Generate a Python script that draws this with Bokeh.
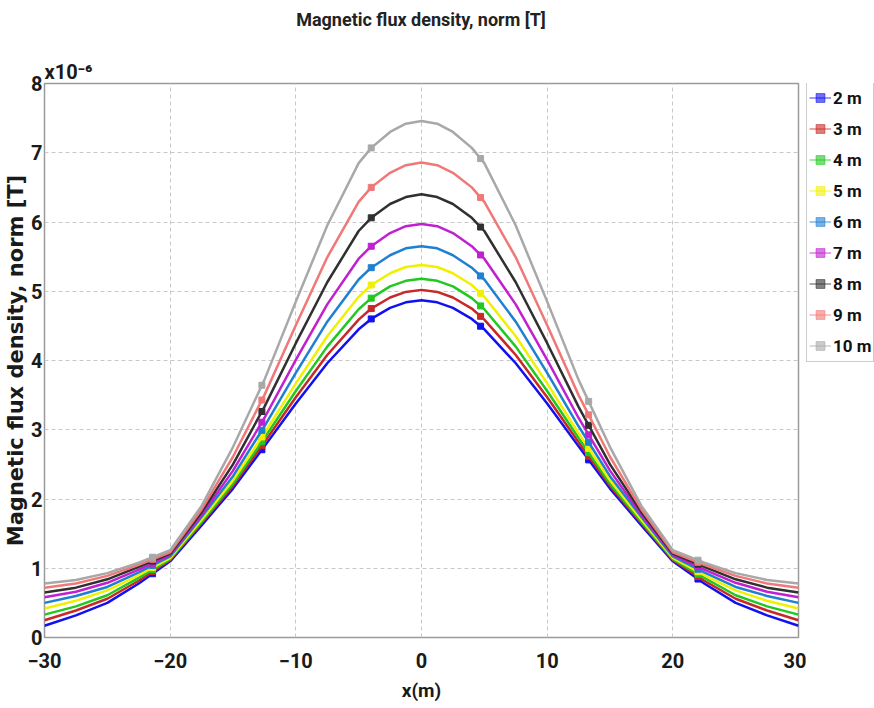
import numpy as np
from bokeh.plotting import figure
from bokeh.models import Range1d, FixedTicker, Legend, LegendItem, Title, Div
from bokeh.layouts import row, column
from bokeh.embed import file_html
from bokeh.resources import INLINE

# x positions (m)
x_m = [-30, -27.5, -25, -22.5, -20, -17.5, -15, -12.5, -10, -7.5, -5, -4, -2.5, -1.25, 0,
       1.25, 2.5, 4, 5, 7.5, 10, 12.5, 15, 17.5, 20, 22.5, 25, 27.5, 30]

# Magnetic flux density (x1e-6 T) for each height
b_2m = [0.17, 0.32, 0.50, 0.78, 1.10, 1.62, 2.15, 2.76, 3.38, 3.96, 4.45, 4.60, 4.76, 4.84, 4.87,
        4.84, 4.76, 4.60, 4.45, 3.96, 3.38, 2.76, 2.15, 1.62, 1.10, 0.78, 0.50, 0.32, 0.17]
b_3m = [0.25, 0.39, 0.56, 0.82, 1.12, 1.65, 2.19, 2.82, 3.47, 4.08, 4.59, 4.75, 4.91, 4.99, 5.02,
        4.99, 4.91, 4.75, 4.59, 4.08, 3.47, 2.82, 2.19, 1.65, 1.12, 0.82, 0.56, 0.39, 0.25]
b_4m = [0.33, 0.45, 0.61, 0.86, 1.13, 1.67, 2.22, 2.88, 3.56, 4.20, 4.74, 4.90, 5.07, 5.15, 5.18,
        5.15, 5.07, 4.90, 4.74, 4.20, 3.56, 2.88, 2.22, 1.67, 1.13, 0.86, 0.61, 0.45, 0.33]
b_5m = [0.42, 0.53, 0.68, 0.90, 1.15, 1.70, 2.27, 2.95, 3.67, 4.35, 4.92, 5.09, 5.26, 5.35, 5.38,
        5.35, 5.26, 5.09, 4.92, 4.35, 3.67, 2.95, 2.27, 1.70, 1.15, 0.90, 0.68, 0.53, 0.42]
b_6m = [0.50, 0.60, 0.73, 0.94, 1.17, 1.74, 2.33, 3.05, 3.82, 4.56, 5.17, 5.34, 5.52, 5.62, 5.65,
        5.62, 5.52, 5.34, 5.17, 4.56, 3.82, 3.05, 2.33, 1.74, 1.17, 0.94, 0.73, 0.60, 0.50]
b_7m = [0.58, 0.66, 0.79, 0.98, 1.19, 1.77, 2.41, 3.17, 4.01, 4.81, 5.47, 5.65, 5.84, 5.94, 5.97,
        5.94, 5.84, 5.65, 5.47, 4.81, 4.01, 3.17, 2.41, 1.77, 1.19, 0.98, 0.79, 0.66, 0.58]
b_8m = [0.65, 0.72, 0.84, 1.02, 1.21, 1.81, 2.50, 3.33, 4.25, 5.13, 5.87, 6.06, 6.26, 6.36, 6.40,
        6.36, 6.26, 6.06, 5.87, 5.13, 4.25, 3.33, 2.50, 1.81, 1.21, 1.02, 0.84, 0.72, 0.65]
b_9m = [0.72, 0.78, 0.89, 1.05, 1.23, 1.85, 2.61, 3.50, 4.51, 5.49, 6.29, 6.50, 6.71, 6.82, 6.86,
        6.82, 6.71, 6.50, 6.29, 5.49, 4.51, 3.50, 2.61, 1.85, 1.23, 1.05, 0.89, 0.78, 0.72]
b_10m = [0.78, 0.83, 0.93, 1.08, 1.26, 1.90, 2.75, 3.72, 4.85, 5.95, 6.85, 7.07, 7.30, 7.42, 7.46,
         7.42, 7.30, 7.07, 6.85, 5.95, 4.85, 3.72, 2.75, 1.90, 1.26, 1.08, 0.93, 0.83, 0.78]

labels = ["2 m", "3 m", "4 m", "5 m", "6 m", "7 m", "8 m", "9 m", "10 m"]
series = [b_2m, b_3m, b_4m, b_5m, b_6m, b_7m, b_8m, b_9m, b_10m]
colors = ["#1010f0", "#c82828", "#20c820", "#f0f000", "#1f7fd0",
          "#c020d0", "#303030", "#f07878", "#a8a8a8"]

# marker positions along x (m)
marker_x = [-21.4, -12.7, -4.0, 4.7, 13.3, 22.0]

x_ticks = [-30, -20, -10, 0, 10, 20, 30]
y_ticks = [0, 1, 2, 3, 4, 5, 6, 7, 8]

FN = "Roboto"
TITLE = "Magnetic flux density, norm [T]"

title_div = Div(text=TITLE, width=842, height=40, margin=0,
                styles={"text-align": "center", "font-family": FN,
                        "font-weight": "bold", "font-size": "18px",
                        "line-height": "40px", "color": "#222222"})

p = figure(width=806, height=668, output_backend="svg", toolbar_location=None,
           x_range=Range1d(-30, 30), y_range=Range1d(0, 8),
           min_border_left=44, min_border_right=8, min_border_top=43,
           min_border_bottom=71)
p.background_fill_color = "white"
p.border_fill_color = "white"
p.outline_line_color = "#9a9a9a"
p.outline_line_width = 1.5

p.xaxis.ticker = FixedTicker(ticks=x_ticks)
p.yaxis.ticker = FixedTicker(ticks=y_ticks)
for ax in (p.xaxis[0], p.yaxis[0]):
    ax.axis_line_color = None
    ax.major_tick_line_color = None
    ax.minor_tick_line_color = None
    ax.major_tick_out = 0
    ax.major_tick_in = 0
    ax.minor_tick_out = 0
    ax.minor_tick_in = 0
    ax.major_label_text_font = FN
    ax.major_label_text_font_style = "bold"
    ax.major_label_text_font_size = "20px"
    ax.major_label_text_color = "#1a1a1a"
p.xaxis.major_label_standoff = 15
p.yaxis.major_label_standoff = 2
p.xaxis.axis_label = "x(m)"
p.xaxis.axis_label_text_font = FN
p.xaxis.axis_label_text_font_style = "bold"
p.xaxis.axis_label_text_font_size = "19px"
p.xaxis.axis_label_text_color = "#1a1a1a"
p.xaxis.axis_label_standoff = 8
p.yaxis.axis_label = TITLE
p.yaxis.axis_label_text_font = "DejaVu Sans"
p.yaxis.axis_label_text_font_style = "bold"
p.yaxis.axis_label_text_font_size = "21px"
p.yaxis.axis_label_text_color = "#1a1a1a"
p.yaxis.axis_label_standoff = 0

p.grid.grid_line_color = "#c8c8c8"
p.grid.grid_line_dash = "4 3"
p.grid.grid_line_width = 1

exp_title = Title(text="x10\u207b\u2076", align="left", text_font=FN,
                  text_font_style="bold", text_font_size="20px",
                  text_color="#1a1a1a", standoff=0)
p.add_layout(exp_title, "above")

# legend lives in a narrow companion figure to the right of the frame
lf = figure(width=68, height=668, output_backend="svg", toolbar_location=None,
            x_range=Range1d(0, 1), y_range=Range1d(0, 1), min_border=0)
lf.axis.visible = False
lf.grid.visible = False
lf.outline_line_color = None
lf.background_fill_color = "white"
lf.border_fill_color = "white"

items = []
for lab, ys, c in zip(labels, series, colors):
    p.line(x_m, ys, line_color=c, line_width=2.5)
    my = np.interp(marker_x, x_m, ys)
    p.scatter(marker_x, my, marker="square", size=6, fill_color=c, line_color=c)
    # pale legend sample glyphs (outside the companion figure's visible range)
    l1 = lf.line([5, 6], [5, 6], line_color=c, line_width=1.5, line_alpha=0.55)
    l2 = lf.scatter([5.5], [5.5], marker="square", size=5, fill_color=c,
                    line_color=c, fill_alpha=0.6, line_alpha=0.6)
    items.append(LegendItem(label=lab, renderers=[l1, l2]))

legend = Legend(items=items, location=(0, 275))
legend.label_text_font = FN
legend.label_text_font_style = "bold"
legend.label_text_font_size = "17px"
legend.label_text_color = "#111111"
legend.label_height = 27
legend.glyph_height = 27
legend.glyph_width = 22
legend.spacing = 4
legend.padding = 2
legend.margin = 0
legend.label_standoff = 2
legend.border_line_color = "#9a9a9a"
legend.border_line_width = 1
legend.background_fill_color = "white"
legend.background_fill_alpha = 1
lf.add_layout(legend)

layout = column(title_div, row(p, lf, spacing=0), spacing=0)

open("out.html", "w").write(file_html(layout, INLINE))
